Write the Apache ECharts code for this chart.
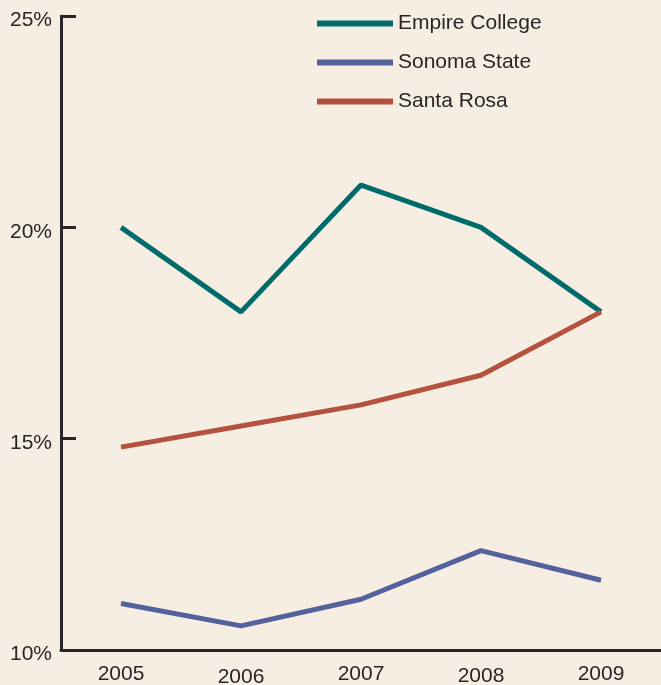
<!DOCTYPE html>
<html>
<head>
<meta charset="utf-8">
<script src="https://cdn.jsdelivr.net/npm/echarts@6/dist/echarts.min.js"></script>
<style>
  html, body { margin: 0; padding: 0; background: #f6eee2; }
  #chart { width: 661px; height: 685px; }
</style>
</head>
<body>
<div id="chart"></div>
<script>
const years = ['2005', '2006', '2007', '2008', '2009'];
const empireCollege = [20.0, 18.0, 21.0, 20.0, 18.0];
const sonomaState = [11.1, 10.57, 11.2, 12.35, 11.65];
const santaRosa = [14.8, 15.3, 15.8, 16.5, 18.0];
const yTicks = [10, 15, 20, 25];

// the year labels in the source sit at slightly uneven heights
const labelNudge = [0, 3, 0, 2, 0];

const ink = '#2a2526';
const font = 'Liberation Sans, Arial, sans-serif';
const fontSize = 21;

const chart = echarts.init(document.getElementById('chart'));

const line = (name, data, color) => ({
  name,
  type: 'line',
  data,
  symbol: 'none',
  lineStyle: { width: 5, color },
  itemStyle: { color },
});

chart.setOption({
  backgroundColor: '#f6eee2',
  animation: false,
  textStyle: { fontFamily: font, color: ink },
  grid: { left: 61, right: 0, top: 16, bottom: 35, outerBoundsMode: 'none' },
  legend: {
    orient: 'vertical',
    left: 312,
    top: 8,
    icon: 'rect',
    itemWidth: 76,
    itemHeight: 6,
    itemGap: 18,
    textStyle: { fontSize, color: ink, fontFamily: font },
    data: ['Empire College', 'Sonoma State', 'Santa Rosa'],
  },
  xAxis: {
    type: 'category',
    data: years,
    boundaryGap: true,
    axisLine: { lineStyle: { color: ink, width: 3 } },
    axisTick: { inside: true, length: 16, lineStyle: { color: ink, width: 3 } },
    axisLabel: {
      margin: 14,
      color: ink,
      fontFamily: font,
      fontSize,
      formatter: (v, i) => `{n${i}|${v}}`,
      rich: Object.fromEntries(labelNudge.map((p, i) => [
        'n' + i,
        { fontSize, color: ink, fontFamily: font, padding: [p, 0, 0, 0] },
      ])),
    },
  },
  yAxis: {
    type: 'value',
    min: yTicks[0],
    max: yTicks[yTicks.length - 1],
    interval: 5,
    splitLine: { show: false },
    axisLine: { show: true, lineStyle: { color: ink, width: 3 } },
    axisTick: { show: true, inside: true, length: 15, lineStyle: { color: ink, width: 3 } },
    axisLabel: {
      margin: 9,
      color: ink,
      fontFamily: font,
      fontSize,
      formatter: '{p|{value}%}',
      rich: { p: { fontSize, color: ink, fontFamily: font, padding: [9, 0, 0, 0] } },
    },
  },
  series: [
    line('Empire College', empireCollege, '#006b6b'),
    line('Sonoma State', sonomaState, '#53619c'),
    line('Santa Rosa', santaRosa, '#b5523f'),
  ],
});
</script>
</body>
</html>
